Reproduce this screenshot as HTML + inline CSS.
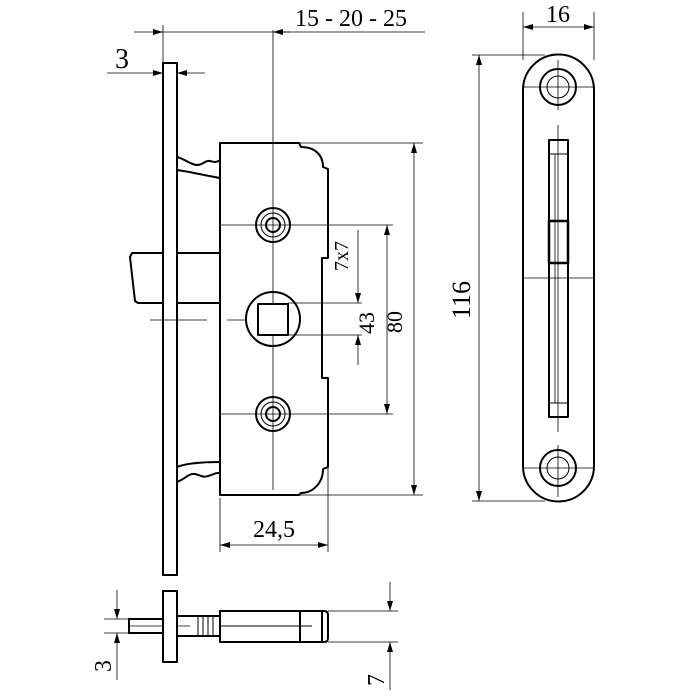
<!DOCTYPE html>
<html><head><meta charset="utf-8"><style>html,body{margin:0;padding:0;background:#fff}svg{display:block}</style></head>
<body>
<svg width="700" height="700" viewBox="0 0 700 700" xmlns="http://www.w3.org/2000/svg" font-family="Liberation Serif, serif" fill="none" stroke="#000">
<defs>
<marker id="a" viewBox="0 0 10 6" refX="10" refY="3" markerWidth="10" markerHeight="6" orient="auto-start-reverse" markerUnits="userSpaceOnUse"><path d="M0,0 L10,3 L0,6 z" fill="#000" stroke="none"/></marker>
</defs>
<g stroke-width="0.8">
<line x1="107" y1="73" x2="163" y2="73" marker-end="url(#a)"/>
<line x1="177" y1="73" x2="205" y2="73" marker-start="url(#a)"/>
<line x1="163" y1="25" x2="163" y2="63"/>
<line x1="134" y1="32" x2="163" y2="32" marker-end="url(#a)"/>
<line x1="163" y1="32" x2="425" y2="32"/>
<line x1="273" y1="32" x2="290" y2="32" marker-start="url(#a)"/>
<line x1="273" y1="30" x2="273" y2="490"/>
<line x1="220" y1="225" x2="393" y2="225"/>
<line x1="220" y1="414" x2="393" y2="414"/>
<line x1="150" y1="320" x2="207" y2="320"/>
<line x1="227" y1="320" x2="245" y2="320"/>
<line x1="288" y1="303" x2="362" y2="303"/>
<line x1="288" y1="335" x2="362" y2="335"/>
<line x1="299" y1="143" x2="423" y2="143"/>
<line x1="299" y1="495" x2="423" y2="495"/>
<line x1="414" y1="143" x2="414" y2="495" marker-start="url(#a)" marker-end="url(#a)"/>
<line x1="387" y1="225" x2="387" y2="414" marker-start="url(#a)" marker-end="url(#a)"/>
<line x1="358" y1="230" x2="358" y2="303" marker-end="url(#a)"/>
<line x1="358" y1="365" x2="358" y2="335" marker-end="url(#a)"/>
<line x1="220" y1="498" x2="220" y2="552"/>
<line x1="328" y1="460" x2="328" y2="552"/>
<line x1="220" y1="545" x2="328" y2="545" marker-start="url(#a)" marker-end="url(#a)"/>
<line x1="104" y1="619" x2="130" y2="619"/><line x1="104" y1="633" x2="130" y2="633"/>
<line x1="117" y1="590" x2="117" y2="619" marker-end="url(#a)"/>
<line x1="117" y1="680" x2="117" y2="633" marker-end="url(#a)"/>
<line x1="130" y1="626" x2="190" y2="626"/>
<line x1="328" y1="611" x2="398" y2="611"/><line x1="328" y1="642" x2="398" y2="642"/>
<line x1="390" y1="582" x2="390" y2="611" marker-end="url(#a)"/>
<line x1="390" y1="690" x2="390" y2="642" marker-end="url(#a)"/>
<line x1="523" y1="12" x2="523" y2="60"/><line x1="594" y1="12" x2="594" y2="60"/>
<line x1="523" y1="27" x2="594" y2="27" marker-start="url(#a)" marker-end="url(#a)"/>
<line x1="472" y1="55" x2="545" y2="55"/><line x1="472" y1="501" x2="545" y2="501"/>
<line x1="479" y1="55" x2="479" y2="501" marker-start="url(#a)" marker-end="url(#a)"/>
<line x1="523" y1="87" x2="594" y2="87"/><line x1="523" y1="468" x2="594" y2="468"/>
<line x1="523" y1="278" x2="594" y2="278"/>
<line x1="558" y1="60" x2="558" y2="110"/><line x1="558" y1="125" x2="558" y2="432"/><line x1="558" y1="445" x2="558" y2="497"/>
<line x1="555" y1="154" x2="555" y2="403"/>
</g>
<g stroke-width="2" stroke-linejoin="round">
<rect x="163" y="63" width="14" height="512"/>
<path d="M220,495 V143 H299 l2,4 c14,0 22,8 22,20 l5,2 V258 h-6 V378 h6 V467 l-5,2 c0,14 -10,24 -22,24 l-2,2 Z"/>
<path d="M163,253 H132 l-2,4 l5,44 l3,2 H163"/>
<line x1="177" y1="253" x2="220" y2="253"/><line x1="177" y1="303" x2="220" y2="303"/>
<path d="M177,157 c8,2 14,8 20,8 c6,0 8,-5 13,-4 c4,1 6,2 10,-1"/>
<path d="M177,170 c15,2 30,6 43,8"/>
<path d="M177,467 c10,-4 25,-5 43,-5"/>
<path d="M177,482 c8,-3 12,-9 18,-8 c5,1 8,4 13,2 c5,-1 8,-4 12,-3"/>
<circle cx="273" cy="225" r="17"/><circle cx="273" cy="225" r="7"/>
<circle cx="273" cy="414" r="17"/><circle cx="273" cy="414" r="7"/>
<circle cx="273" cy="319" r="27"/>
<rect x="258" y="304" width="30" height="31" fill="#fff"/>
<rect x="163" y="591" width="14" height="71" fill="#fff"/>
<rect x="129" y="619" width="34" height="14"/>
<rect x="177" y="616" width="43" height="20"/>
<path d="M220,611 H324 q4,0 4,4 V638 q0,4 -4,4 H220 Z"/>
<line x1="300" y1="611" x2="300" y2="642"/>
<line x1="322" y1="611" x2="322" y2="642"/>
<path d="M523,90 A35.5,35.5 0 0 1 594,90 V466 A35.5,35.5 0 0 1 523,466 Z"/>
<circle cx="558" cy="87" r="18"/><circle cx="558" cy="468" r="18"/>
<rect x="549" y="140" width="19" height="277"/>
<rect x="549" y="221" width="19" height="42" stroke-width="2.5"/>
</g>
<g stroke-width="1">
<circle cx="273" cy="225" r="12"/><circle cx="273" cy="414" r="12"/>
<circle cx="558" cy="87" r="11"/><circle cx="558" cy="468" r="11"/>
<line x1="549" y1="154" x2="568" y2="154"/><line x1="549" y1="403" x2="568" y2="403"/>
<line x1="220" y1="626" x2="312" y2="626"/>
<line x1="198" y1="616" x2="198" y2="636"/><line x1="203" y1="616" x2="203" y2="636"/><line x1="208" y1="616" x2="208" y2="636"/><line x1="213" y1="616" x2="213" y2="636"/>
</g>
<g fill="#000" stroke="none">
<text x="351" y="26" font-size="24" text-anchor="middle">15 - 20 - 25</text>
<text x="122" y="68" font-size="28" text-anchor="middle">3</text>
<text x="274" y="537" font-size="24" text-anchor="middle">24,5</text>
<text x="558" y="22" font-size="24" text-anchor="middle">16</text>
<text transform="translate(470,300) rotate(-90)" font-size="26" text-anchor="middle">116</text>
<text transform="translate(348,256) rotate(-90)" font-size="20" text-anchor="middle">7x7</text>
<text transform="translate(374,323) rotate(-90)" font-size="22" text-anchor="middle">43</text>
<text transform="translate(402,322) rotate(-90)" font-size="22" text-anchor="middle">80</text>
<text transform="translate(111,666) rotate(-90)" font-size="24" text-anchor="middle">3</text>
<text transform="translate(384,680) rotate(-90)" font-size="24" text-anchor="middle">7</text>
</g>
</svg>
</body></html>
